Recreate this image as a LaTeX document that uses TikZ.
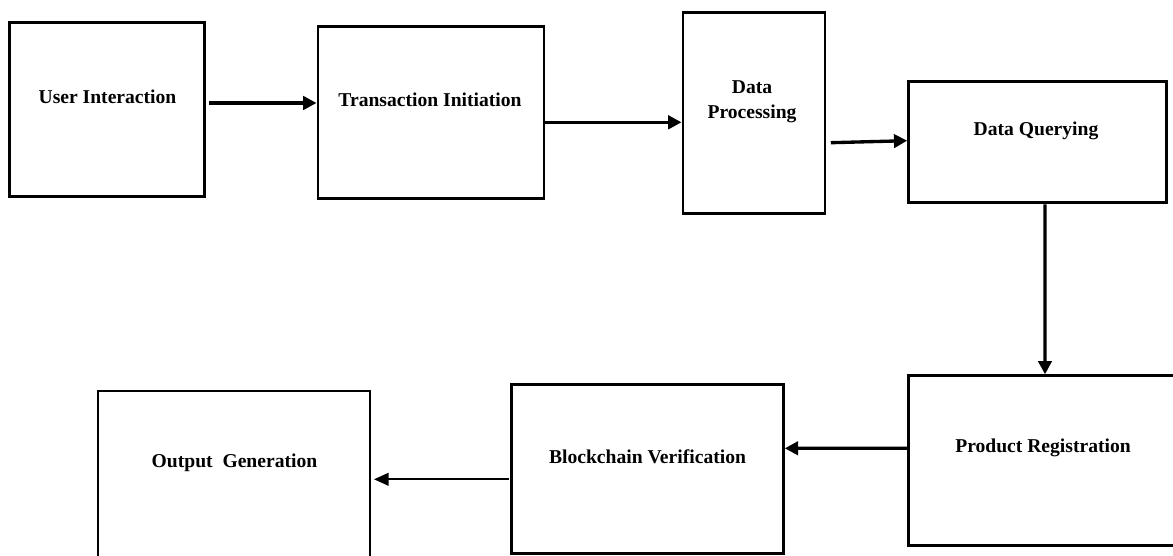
\documentclass[tikz,border=0pt]{standalone}
\usepackage{fontspec}
\setmainfont{Liberation Serif}
\usetikzlibrary{arrows.meta,positioning,calc}

\begin{document}
\begin{tikzpicture}[x=0.75pt,y=-0.75pt,
  stage/.style={draw, line width=2.2pt, inner sep=0pt},
  caption/.style={font=\fontsize{14.7}{18.75}\selectfont\bfseries, align=center, inner sep=0pt},
  flow/.style={line width=2.5pt, -{Triangle[length=10pt,width=10pt]}},
  thinflow/.style={line width=1.5pt, -{Triangle[length=11pt,width=9.5pt]}}]
\useasboundingbox (0,0) rectangle (1173,556);
% Top row of stages
\node[stage, minimum width=146.25pt, minimum height=130.5pt] (ui) at (107,109.5) {};
\node[caption] (ui-t) at (107.5,97) {User Interaction};
\node[stage, minimum width=169.5pt, minimum height=128.6pt] (tx) at (431,112.5) {};
\node[caption] (tx-t) at (430,100) {Transaction Initiation};
\node[stage, minimum width=106.5pt, minimum height=150.75pt] (proc) at (754,112.7) {};
\node[caption] (proc-t) at (752,102) {Data\\Processing};
\node[stage, minimum width=193.5pt, minimum height=91.1pt] (query) at (1037.7,142.2) {};
\node[caption] (query-t) at (1036,131) {Data Querying};
% Bottom row (right to left)
\node[stage, minimum width=200.25pt, minimum height=127.5pt] (reg) at (1042,460.8) {};
\node[caption] (reg-t) at (1043,448) {Product Registration};
\node[stage, minimum width=203.7pt, minimum height=126.2pt] (verify) at (647.5,469) {};
\node[caption] (verify-t) at (647.5,457) {Blockchain Verification};
\node[stage, minimum width=204pt, minimum height=126.75pt] (output) at (234,475.5) {};
\node[caption] (output-t) at (234.5,463) {Output~ Generation};
% Connectors
\draw[flow] ($(ui.east)+(3,-6.5)$) -- ($(tx.west)+(0,-9.5)$);
\draw[flow] ($(tx.east)+(0,9.8)$) -- ($(proc.west)+(0,9.6)$);
\draw[flow] ($(proc.east)+(4.3,30)$) -- ($(query.west)+(0,-1.5)$);
\draw[flow] ($(query.south)+(7.3,0)$) -- ($(reg.north)+(3,0)$);
\draw[flow] ($(reg.west)+(0,-12.5)$) -- ($(verify.east)+(0,-20.7)$);
\draw[thinflow] ($(verify.west)+(-1.5,10.3)$) -- ($(output.east)+(2.5,3.8)$);
\end{tikzpicture}
\end{document}
